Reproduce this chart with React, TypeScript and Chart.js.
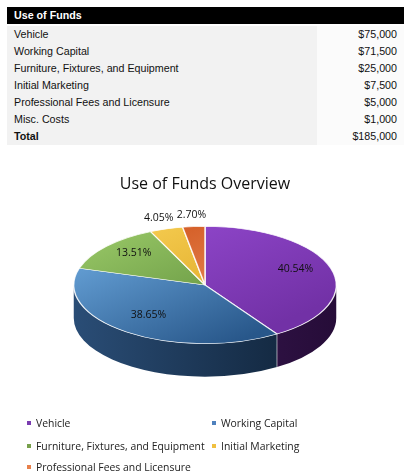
import { useEffect, useRef } from "react"
import { Chart, registerables, type ChartConfiguration, type Plugin } from "chart.js"

Chart.register(...registerables)

// table data
const categories = [
  "Vehicle",
  "Working Capital",
  "Furniture, Fixtures, and Equipment",
  "Initial Marketing",
  "Professional Fees and Licensure",
  "Misc. Costs",
]
const amounts = [75000, 71500, 25000, 7500, 5000, 1000]

// the pie leaves out Misc. Costs, but percentages are of the full total
const pieCategories = categories.slice(0, 5)
const pieAmounts = amounts.slice(0, 5)
const total = amounts.reduce((a, b) => a + b, 0)

const topLight = ["#9349cf", "#6aa6dc", "#95c464", "#f6cd52", "#d0541c"]
const topDark = ["#7231a6", "#28578a", "#5a8a38", "#d9a11c", "#ee9a68"]
const sideLight = ["#432060", "#2a4d76", "#4d7530", "#b98a18", "#b04818"]
const sideDark = ["#260c38", "#0e2034", "#34521e", "#8c6610", "#8a3610"]
const legendColors = ["#7a3cb0", "#4f81bd", "#77a04b", "#f0c040", "#e8804a"]

const FONT = "'Open Sans', sans-serif"
const FLAT = 0.447 // vertical squash of the pie top
const DEPTH = 33 // thickness of the pie, px
const CENTER_Y = 135 // where the pie centre lands on the canvas

const money = (v: number) => "$" + v.toLocaleString("en-US")

const tiltPlugin: Plugin<"pie"> = {
  id: "tilt",
  beforeDatasetsDraw(chart) {
    const arcs = chart.getDatasetMeta(0).data as any[]
    if (!arcs.length) return
    const { x, y, outerRadius: r } = arcs[0]
    const ctx = chart.ctx
    ctx.save()
    ctx.translate(x, CENTER_Y)
    ctx.scale(1, FLAT)
    ctx.translate(-x, -y)
    const d = DEPTH / FLAT

    // front walls
    arcs.forEach((arc, i) => {
      const a1 = Math.max(arc.startAngle, 0)
      const a2 = Math.min(arc.endAngle, Math.PI)
      if (a2 <= a1) return
      const g = ctx.createLinearGradient(x - r, 0, x + r, 0)
      g.addColorStop(0, sideLight[i])
      g.addColorStop(1, sideDark[i])
      ctx.beginPath()
      ctx.arc(x, y, r, a1, a2)
      ctx.arc(x, y + d, r, a2, a1, true)
      ctx.closePath()
      ctx.fillStyle = g
      ctx.fill()
    })

    // edges between walls
    ctx.strokeStyle = "rgba(255,255,255,0.8)"
    ctx.lineWidth = 1
    arcs.forEach((arc) => {
      const a = arc.endAngle
      if (a <= 0 || a >= Math.PI) return
      ctx.beginPath()
      ctx.moveTo(x + r * Math.cos(a), y + r * Math.sin(a))
      ctx.lineTo(x + r * Math.cos(a), y + r * Math.sin(a) + d)
      ctx.stroke()
    })
  },
  afterDatasetsDraw(chart) {
    const ctx = chart.ctx
    ctx.restore()
    const arcs = chart.getDatasetMeta(0).data as any[]
    ctx.save()
    ctx.font = `10.5px ${FONT}`
    ctx.fillStyle = "#111"
    ctx.textAlign = "center"
    ctx.textBaseline = "middle"
    arcs.forEach((arc, i) => {
      const pct = pieAmounts[i] / total
      const mid = (arc.startAngle + arc.endAngle) / 2
      const outside = pct < 0.06
      const f = outside ? 1.2 : 0.72
      const px = arc.x + Math.cos(mid) * arc.outerRadius * f
      const py = CENTER_Y + Math.sin(mid) * arc.outerRadius * f * FLAT - (outside ? 0 : 4)
      ctx.fillText((pct * 100).toFixed(2) + "%", px, py)
    })
    ctx.restore()
  },
}

function FundsPie() {
  const chartRef = useRef<HTMLCanvasElement>(null)
  const chartInstance = useRef<Chart | null>(null)

  useEffect(() => {
    if (!chartRef.current) return
    const ctx = chartRef.current.getContext("2d")
    if (!ctx) return
    if (chartInstance.current) chartInstance.current.destroy()

    const config: ChartConfiguration<"pie"> = {
      type: "pie",
      data: {
        labels: pieCategories,
        datasets: [
          {
            data: pieAmounts,
            backgroundColor: (c: any) => {
              const area = c.chart.chartArea
              const i = c.dataIndex
              if (!area) return topDark[i]
              const g = c.chart.ctx.createLinearGradient(area.left, area.top, area.right, area.bottom)
              g.addColorStop(0.1, topLight[i])
              g.addColorStop(0.8, topDark[i])
              return g
            },
            borderColor: "rgba(255,255,255,0.85)",
            borderWidth: 1.5,
          },
        ],
      },
      options: {
        animation: false,
        responsive: true,
        maintainAspectRatio: false,
        layout: { padding: { left: 73, right: 76, top: 0, bottom: 0 } },
        plugins: {
          legend: { display: false },
          tooltip: { enabled: false },
          title: {
            display: true,
            text: "Use of Funds Overview",
            color: "#111",
            font: { family: FONT, size: 16, weight: "normal" },
            padding: { top: 25, bottom: 10 },
          },
        },
      },
      plugins: [tiltPlugin],
    }

    chartInstance.current = new Chart(ctx, config)
    return () => {
      if (chartInstance.current) {
        chartInstance.current.destroy()
        chartInstance.current = null
      }
    }
  }, [])

  return <canvas ref={chartRef} />
}

export default function App() {
  const rowStyle = { display: "flex", height: 17, lineHeight: "17px" }
  return (
    <div
      style={{
        position: "absolute",
        left: 0,
        top: 0,
        width: 413,
        height: 475,
        background: "#fff",
        overflow: "hidden",
      }}
    >
      <div
        style={{
          position: "absolute",
          left: 7,
          top: 7,
          width: 397,
          fontFamily: "'Liberation Sans', Arial, sans-serif",
          fontSize: 10.7,
          color: "#111",
        }}
      >
        <div style={{ ...rowStyle, background: "#000", color: "#fff", fontWeight: "bold", paddingLeft: 7, marginBottom: 2 }}>
          Use of Funds
        </div>
        {categories.map((c, i) => (
          <div key={c} style={rowStyle}>
            <div style={{ width: 303, paddingLeft: 7, background: "#f2f2f2" }}>{c}</div>
            <div style={{ flex: 1, textAlign: "right", paddingRight: 7, background: "#fbfbfb" }}>{money(amounts[i])}</div>
          </div>
        ))}
        <div style={rowStyle}>
          <div style={{ width: 303, paddingLeft: 7, background: "#f2f2f2", fontWeight: "bold" }}>Total</div>
          <div style={{ flex: 1, textAlign: "right", paddingRight: 7, background: "#fbfbfb" }}>{money(total)}</div>
        </div>
      </div>

      <div style={{ position: "absolute", left: 0, top: 150, width: 413, height: 325 }}>
        <FundsPie />
      </div>

      <div style={{ position: "absolute", left: 0, top: 0, fontFamily: FONT, fontSize: 10.4, color: "#222" }}>
        {pieCategories.map((c, i) => {
          const left = i % 2 === 0 ? 27 : 212
          const top = [423, 446, 467][Math.floor(i / 2)]
          return (
            <div key={c} style={{ position: "absolute", left, top: top - 8, height: 16, whiteSpace: "nowrap", display: "flex", alignItems: "center" }}>
              <span style={{ width: 4, height: 4, background: legendColors[i], marginRight: 5 }} />
              <span style={{ lineHeight: "16px" }}>{c}</span>
            </div>
          )
        })}
      </div>
    </div>
  )
}
